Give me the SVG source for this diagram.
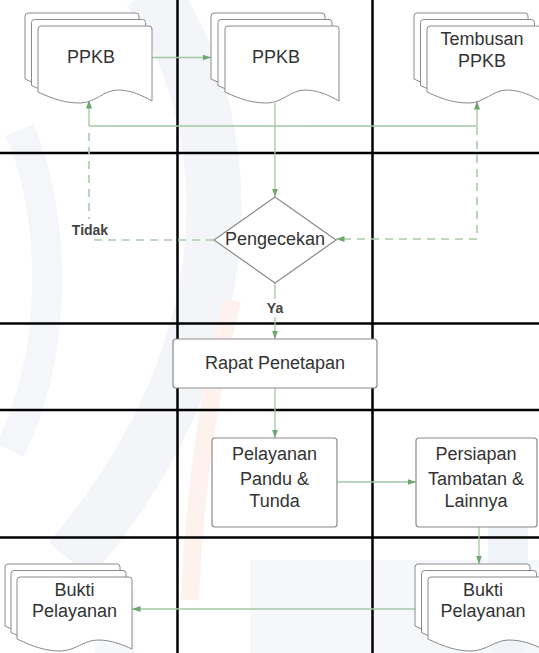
<svg xmlns="http://www.w3.org/2000/svg" width="539" height="653" viewBox="0 0 539 653">
<style>
.grid{stroke:#000;stroke-width:2.5;fill:none}
.page{fill:#fff;stroke:#8a8a8a;stroke-width:1}
.box{fill:#fff;stroke:#8a8a8a;stroke-width:1.2}
.t{font-family:"Liberation Sans",Arial,sans-serif;font-size:18px;fill:#333;text-anchor:middle}
.lbl{font-family:"Liberation Sans",Arial,sans-serif;font-size:14px;font-weight:bold;fill:#444;text-anchor:middle}
.c{fill:none;stroke:#a3c8a3;stroke-width:1.3}
.d{fill:none;stroke:#a8cca8;stroke-width:1.6;stroke-dasharray:8,6}
.wm{fill:none;stroke-linecap:butt}
</style>
<defs>
<marker id="ah" markerWidth="9" markerHeight="7" refX="8.5" refY="3.5" orient="auto" markerUnits="userSpaceOnUse">
<path d="M0,0.5 L8.5,3.5 L0,6.5 Z" fill="#6fa56f"/>
</marker>
<path id="doc" d="M0,3 Q0,0 3,0 H111 Q114,0 114,3 V75 C105,70 93.5,64 80,64 C66,64 57,77 42,77 C28.5,77 17,74 0,66 Z"/>
<path id="docb" d="M0,3 Q0,0 3,0 H112 Q115,0 115,3 V72 C106,68 95,63 81,63 C67,63 58,74 43,74 C29,74 17,70 0,62 Z"/>
</defs>
<rect width="539" height="653" fill="#fff"/>
<g id="watermark">
<path class="wm" d="M150,-10 C250,140 240,360 70,560" stroke="#f3f5f9" stroke-width="55"/>
<path class="wm" d="M20,130 C60,230 55,360 10,450" stroke="#f4f6fa" stroke-width="30"/>
<path class="wm" d="M232,300 C210,390 195,480 190,600" stroke="#fdf2ed" stroke-width="18"/>
<rect x="250" y="560" width="289" height="93" fill="#f5f7fa"/>
<rect x="95" y="590" width="40" height="63" fill="#f5f7fa"/>
<rect x="488" y="500" width="40" height="153" rx="12" fill="#f0f3f8"/>
</g>
<g id="grid">
<line class="grid" x1="177.5" y1="0" x2="177.5" y2="653"/>
<line class="grid" x1="372.5" y1="0" x2="372.5" y2="653"/>
<line class="grid" x1="0" y1="153" x2="539" y2="153"/>
<line class="grid" x1="0" y1="323.5" x2="539" y2="323.5"/>
<line class="grid" x1="0" y1="410" x2="539" y2="410"/>
<line class="grid" x1="0" y1="537.5" x2="539" y2="537.5"/>
</g>
<g id="connectors">
<path class="c" d="M152,57.5 H211" marker-end="url(#ah)"/>
<path class="c" d="M275,103 V197" marker-end="url(#ah)"/>
<path class="c" d="M89,126 H477"/>
<path class="c" d="M89,126 V100" marker-end="url(#ah)"/>
<path class="c" d="M477,126 V101" marker-end="url(#ah)"/>
<path class="d" d="M214,240 H89 V127"/>
<path class="d" d="M477,127 V239 H336" marker-end="url(#ah)"/>
<path class="c" d="M275,283 V339" marker-end="url(#ah)"/>
<path class="c" d="M275,388 V438" marker-end="url(#ah)"/>
<path class="c" d="M337,482 H416" marker-end="url(#ah)"/>
<path class="c" d="M479,527 V564" marker-end="url(#ah)"/>
<path class="c" d="M415,609 H132" marker-end="url(#ah)"/>
<rect x="67" y="219" width="44" height="20" fill="#fff"/>
<text class="lbl" x="90" y="235">Tidak</text>
<rect x="262" y="299" width="26" height="18" fill="#fff"/>
<text class="lbl" x="275" y="313">Ya</text>
</g>
<g id="ppkb1">
<use href="#doc" class="page" x="25" y="13"/>
<use href="#doc" class="page" x="31.5" y="19.5"/>
<use href="#doc" class="page" x="38" y="26"/>
<text class="t" x="91" y="63">PPKB</text>
</g>
<g id="ppkb2">
<use href="#doc" class="page" x="211" y="13"/>
<use href="#doc" class="page" x="218" y="19.5"/>
<use href="#doc" class="page" x="225" y="26"/>
<text class="t" x="276" y="63">PPKB</text>
</g>
<g id="tembusan">
<use href="#doc" class="page" x="414" y="13"/>
<use href="#doc" class="page" x="420.5" y="19.5"/>
<use href="#doc" class="page" x="427" y="26"/>
<text class="t" x="482" y="45">Tembusan</text>
<text class="t" x="482" y="67">PPKB</text>
</g>
<g id="pengecekan">
<path class="box" d="M275,197 L336,240 L275,283 L214,240 Z"/>
<text class="t" x="275" y="245">Pengecekan</text>
</g>
<g id="rapat">
<rect class="box" x="173" y="339" width="204" height="49" rx="3"/>
<text class="t" x="275" y="369">Rapat Penetapan</text>
</g>
<g id="pelayanan">
<rect class="box" x="212" y="438" width="125" height="89" rx="3"/>
<text class="t" x="274.5" y="460">Pelayanan</text>
<text class="t" x="274.5" y="485">Pandu &amp;</text>
<text class="t" x="274.5" y="507">Tunda</text>
</g>
<g id="persiapan">
<rect class="box" x="416" y="438" width="121" height="89" rx="3"/>
<text class="t" x="476" y="460">Persiapan</text>
<text class="t" x="476" y="485">Tambatan &amp;</text>
<text class="t" x="476" y="507">Lainnya</text>
</g>
<g id="bukti2">
<use href="#docb" class="page" x="415" y="564"/>
<use href="#docb" class="page" x="421.5" y="570.5"/>
<use href="#docb" class="page" x="428" y="577"/>
<text class="t" x="483" y="596">Bukti</text>
<text class="t" x="483" y="617">Pelayanan</text>
</g>
<g id="bukti1">
<use href="#docb" class="page" x="5" y="564"/>
<use href="#docb" class="page" x="11" y="570.5"/>
<use href="#docb" class="page" x="17" y="577"/>
<text class="t" x="74.5" y="596">Bukti</text>
<text class="t" x="74.5" y="617">Pelayanan</text>
</g>
</svg>
